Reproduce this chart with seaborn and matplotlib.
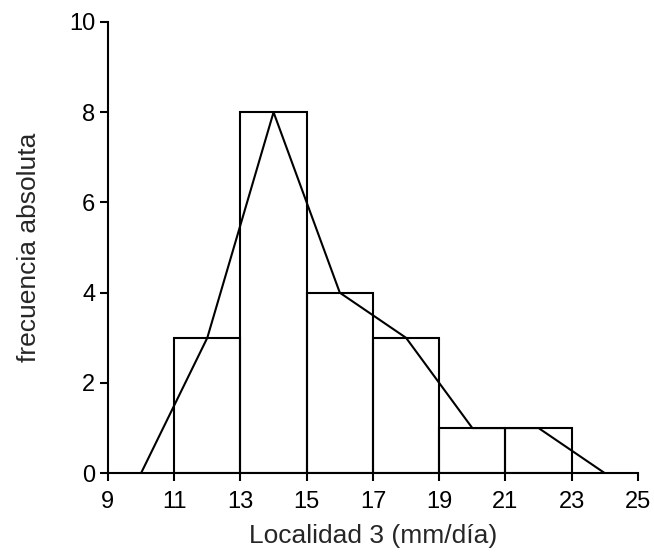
import numpy as np
import pandas as pd
import matplotlib.pyplot as plt
import seaborn as sns

# class marks and frequencies
bin_edges = [11, 13, 15, 17, 19, 21, 23]
class_marks = [12, 14, 16, 18, 20, 22]
freqs = [3, 8, 4, 3, 1, 1]

# frequency polygon, closed at both ends
poly_x = [10, 12, 14, 16, 18, 20, 22, 24]
poly_y = [0, 3, 8, 4, 3, 1, 1, 0]

sns.set_style("white")
plt.rcParams['font.family'] = ['Liberation Sans', 'DejaVu Sans']

fig = plt.figure(figsize=(6.54, 5.58), dpi=100)
ax = fig.add_axes([0.165, 0.152, 0.8105, 0.8086])

df = pd.DataFrame({'x': class_marks, 'n': freqs})
sns.histplot(data=df, x='x', weights='n', bins=bin_edges, fill=False,
             color='black', linewidth=1.5, ax=ax)
sns.lineplot(x=poly_x, y=poly_y, color='black', linewidth=1.5, ax=ax)

ax.set_xlim(9, 25)
ax.set_ylim(0, 10)
ax.set_xticks(range(9, 26, 2))
ax.set_yticks(range(0, 11, 2))
for s in ['top', 'right']:
    ax.spines[s].set_visible(False)
for s in ['left', 'bottom']:
    ax.spines[s].set_color('black')
    ax.spines[s].set_linewidth(1.5)
ax.tick_params(direction='out', length=6, width=1.5, colors='black',
               labelsize=17, left=True, bottom=True)
ax.tick_params(axis='x', pad=7)
ax.tick_params(axis='y', pad=3)
ax.set_xlabel('Localidad 3 (mm/día)', fontsize=19, labelpad=8)
ax.set_ylabel('frecuencia absoluta', fontsize=19, labelpad=20)

fig.savefig('out.png', dpi=100)
